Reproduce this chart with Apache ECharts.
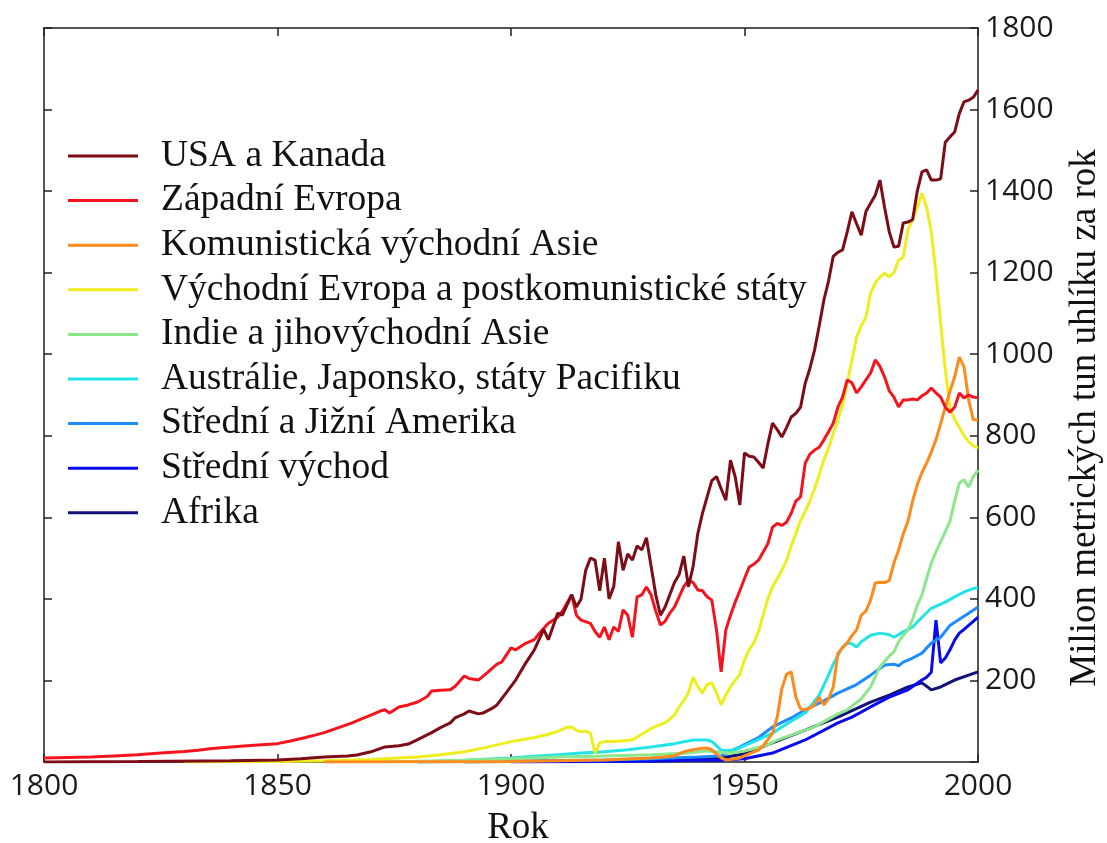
<!DOCTYPE html>
<html>
<head>
<meta charset="utf-8">
<script src="https://cdn.jsdelivr.net/npm/echarts@6/dist/echarts.min.js"></script>
<style>
html,body{margin:0;padding:0;background:#fff;}
#chart{width:1107px;height:843px;}
</style>
</head>
<body>
<div id="chart"></div>
<script>
// ---- data (year, million metric tons of carbon per year) ----
const seriesNames = [
  "USA a Kanada",
  "Západní Evropa",
  "Komunistická východní Asie",
  "Východní Evropa a postkomunistické státy",
  "Indie a jihovýchodní Asie",
  "Austrálie, Japonsko, státy Pacifiku",
  "Střední a Jižní Amerika",
  "Střední východ",
  "Afrika"
];
const xTicks = [1800, 1850, 1900, 1950, 2000];
const yTicks = [0, 200, 400, 600, 800, 1000, 1200, 1400, 1600, 1800];

const usaKanada = [[1800,0],[1820,1],[1840,3],[1850,5],[1855,8],[1860,12],[1865,15],[1867,17],[1870,25],[1873,37],[1876,40],[1878,44],[1880,55],[1883,72],[1885,85],[1887,96],[1888,108],[1890,118],[1891,125],[1893,118],[1894,120],[1896,132],[1897,140],[1899,170],[1901,201],[1903,240],[1905,275],[1907,325],[1908,300],[1910,365],[1911,360],[1913,410],[1914,380],[1915,400],[1916,470],[1917,500],[1918,495],[1919,420],[1920,500],[1921,400],[1922,430],[1923,540],[1924,470],[1925,510],[1926,495],[1927,530],[1928,520],[1929,550],[1930,480],[1931,410],[1932,360],[1933,380],[1934,410],[1935,440],[1936,460],[1937,505],[1938,430],[1939,480],[1940,560],[1941,610],[1942,650],[1943,690],[1944,700],[1945,670],[1946,642],[1947,740],[1948,700],[1949,630],[1950,758],[1951,750],[1952,748],[1953,735],[1954,721],[1955,780],[1956,831],[1957,815],[1958,797],[1959,820],[1960,846],[1961,855],[1962,870],[1963,929],[1964,965],[1965,1010],[1966,1070],[1967,1133],[1968,1180],[1969,1240],[1970,1250],[1971,1256],[1972,1300],[1973,1349],[1974,1320],[1975,1292],[1976,1350],[1977,1370],[1978,1390],[1979,1427],[1980,1360],[1981,1300],[1982,1263],[1983,1265],[1984,1322],[1985,1324],[1986,1330],[1987,1400],[1988,1447],[1989,1452],[1990,1427],[1991,1427],[1992,1430],[1993,1520],[1994,1533],[1995,1545],[1996,1590],[1997,1619],[1998,1623],[1999,1630],[2000,1648]];

const zapadniEvropa = [[1800,10],[1805,11],[1810,12],[1815,15],[1820,18],[1825,22],[1830,26],[1833,29],[1836,33],[1840,37],[1845,41],[1850,45],[1853,52],[1856,60],[1858,66],[1860,72],[1862,80],[1864,88],[1866,96],[1868,106],[1870,115],[1872,125],[1873,128],[1874,120],[1876,135],[1878,140],[1880,147],[1882,160],[1883,174],[1885,176],[1887,177],[1888,185],[1890,211],[1891,205],[1893,201],[1895,220],[1897,240],[1898,245],[1900,280],[1901,275],[1903,290],[1905,300],[1906,315],[1908,340],[1910,355],[1911,370],[1913,410],[1914,360],[1915,348],[1917,340],[1918,320],[1919,306],[1920,331],[1921,300],[1922,331],[1923,320],[1924,373],[1925,360],[1926,306],[1927,405],[1928,410],[1929,429],[1930,410],[1931,370],[1932,336],[1933,345],[1934,365],[1935,380],[1936,405],[1937,430],[1938,446],[1939,440],[1940,422],[1941,420],[1942,405],[1943,397],[1944,324],[1945,221],[1946,324],[1947,360],[1948,392],[1949,420],[1950,450],[1951,478],[1952,485],[1953,495],[1954,515],[1955,535],[1956,576],[1957,585],[1958,580],[1959,588],[1960,610],[1961,640],[1962,650],[1963,733],[1964,755],[1965,765],[1966,772],[1967,790],[1968,810],[1969,831],[1970,870],[1971,895],[1972,937],[1973,930],[1974,905],[1975,920],[1976,937],[1977,954],[1978,986],[1979,970],[1980,944],[1981,910],[1982,895],[1983,871],[1984,888],[1985,888],[1986,890],[1987,888],[1988,898],[1989,905],[1990,917],[1991,905],[1992,895],[1993,870],[1994,858],[1995,870],[1996,905],[1997,893],[1998,900],[1999,895],[2000,893]];

const komunistickaAsie = [[1860,0],[1900,1],[1910,3],[1920,5],[1930,10],[1935,15],[1937,25],[1939,30],[1941,34],[1942,34],[1943,30],[1944,20],[1945,10],[1946,5],[1947,6],[1948,8],[1949,10],[1950,15],[1951,20],[1952,25],[1953,29],[1954,40],[1955,55],[1956,71],[1957,110],[1958,180],[1959,215],[1960,221],[1961,159],[1962,130],[1963,128],[1964,132],[1965,140],[1966,159],[1967,140],[1968,155],[1969,184],[1970,267],[1971,280],[1972,292],[1973,310],[1974,324],[1975,360],[1976,370],[1977,397],[1978,439],[1979,441],[1980,440],[1981,445],[1982,488],[1983,520],[1984,560],[1985,590],[1986,640],[1987,680],[1988,710],[1989,733],[1990,760],[1991,790],[1992,830],[1993,870],[1994,910],[1995,944],[1996,993],[1997,969],[1998,888],[1999,839],[2000,839]];

const vychodniEvropa = [[1830,0],[1850,1],[1860,3],[1870,6],[1880,12],[1885,18],[1890,25],[1894,34],[1897,42],[1900,50],[1903,56],[1905,60],[1908,68],[1910,75],[1912,85],[1913,86],[1914,78],[1915,74],[1916,76],[1917,71],[1918,22],[1919,47],[1920,50],[1922,50],[1924,52],[1926,54],[1928,68],[1930,82],[1932,92],[1933,96],[1935,115],[1936,135],[1937,150],[1938,170],[1939,208],[1940,185],[1941,169],[1942,190],[1943,194],[1944,170],[1945,140],[1946,165],[1947,184],[1948,200],[1949,215],[1950,250],[1951,275],[1952,292],[1953,320],[1954,360],[1955,400],[1956,429],[1957,450],[1958,470],[1959,495],[1960,530],[1961,560],[1962,593],[1963,615],[1964,640],[1965,670],[1966,705],[1967,741],[1968,770],[1969,805],[1970,839],[1971,875],[1972,929],[1973,985],[1974,1042],[1975,1070],[1976,1091],[1977,1150],[1978,1175],[1979,1189],[1980,1199],[1981,1190],[1982,1200],[1983,1231],[1984,1238],[1985,1305],[1986,1330],[1987,1360],[1988,1395],[1989,1360],[1990,1300],[1991,1199],[1992,1077],[1993,960],[1994,870],[1995,840],[1996,821],[1997,800],[1998,785],[1999,775],[2000,770]];

const indieAsie = [[1870,0],[1880,2],[1890,4],[1900,8],[1910,12],[1920,15],[1930,18],[1938,22],[1940,25],[1942,27],[1944,25],[1946,22],[1948,23],[1950,27],[1955,42],[1957,54],[1960,66],[1965,86],[1970,118],[1972,128],[1975,155],[1977,184],[1979,233],[1981,260],[1982,270],[1983,295],[1984,310],[1985,324],[1986,350],[1987,385],[1988,410],[1989,450],[1990,488],[1991,515],[1992,540],[1993,565],[1994,590],[1995,640],[1996,684],[1997,692],[1998,674],[1999,700],[2000,716]];

const australieJaponsko = [[1880,0],[1890,4],[1900,10],[1905,14],[1910,18],[1915,22],[1920,25],[1925,30],[1930,37],[1935,45],[1939,54],[1942,54],[1943,50],[1944,40],[1945,29],[1946,28],[1947,29],[1948,30],[1950,40],[1953,55],[1956,71],[1960,100],[1963,120],[1966,164],[1968,213],[1969,240],[1971,282],[1972,292],[1973,290],[1974,282],[1975,295],[1977,311],[1979,316],[1981,312],[1982,306],[1984,319],[1986,331],[1988,355],[1990,377],[1993,392],[1995,405],[1997,417],[2000,429]];

const jizniAmerika = [[1880,0],[1900,2],[1920,5],[1930,8],[1940,12],[1945,15],[1949,37],[1953,60],[1956,86],[1960,108],[1963,128],[1967,150],[1970,169],[1974,190],[1977,213],[1980,238],[1982,240],[1983,236],[1984,245],[1986,255],[1988,267],[1990,292],[1992,306],[1994,335],[1996,350],[1998,365],[2000,380]];

const stredniVychod = [[1900,0],[1930,2],[1940,5],[1945,4],[1950,8],[1956,22],[1963,54],[1970,96],[1973,110],[1977,135],[1981,159],[1985,177],[1988,201],[1989,208],[1990,220],[1991,348],[1992,243],[1993,255],[1994,275],[1995,299],[1996,316],[1997,325],[1998,335],[1999,345],[2000,355]];

const afrika = [[1890,0],[1900,1],[1920,3],[1930,5],[1940,8],[1945,10],[1950,20],[1956,47],[1963,78],[1970,110],[1977,147],[1981,164],[1985,184],[1988,194],[1990,177],[1992,184],[1995,201],[2000,221]];

const seriesData = [usaKanada, zapadniEvropa, komunistickaAsie, vychodniEvropa, indieAsie, australieJaponsko, jizniAmerika, stredniVychod, afrika];
const colors = ["#7d0c16", "#f5141e", "#ff8a1c", "#eeee1e", "#8ce68c", "#22e4e6", "#1e8cff", "#0a0af0", "#12127a"];

const chart = echarts.init(document.getElementById('chart'), null, {renderer: 'canvas'});

const axisLineStyle = {color: '#555', width: 2};
const tickFont = {fontFamily: 'Open Sans', fontSize: 30, color: '#1a1a1a'};
const serif = 'Liberation Serif';
const tickStyle = {show: true, inside: true, length: 8, lineStyle: {color: '#222', width: 1.5}};

const option = {
  backgroundColor: '#fff',
  animation: false,
  color: colors,
  grid: {left: 44, right: 129, top: 28, bottom: 81, containLabel: false, outerBoundsMode: 'none'},
  legend: {
    orient: 'vertical',
    left: 63,
    top: 132,
    icon: 'rect',
    itemWidth: 70,
    itemHeight: 3,
    itemGap: 6.6,
    data: seriesNames,
    textStyle: {fontFamily: serif, fontSize: 37.5, color: '#111', lineHeight: 37, padding: [0, 0, 0, 18]}
  },
  xAxis: [{
    type: 'value', min: xTicks[0], max: xTicks[xTicks.length - 1], interval: 50,
    position: 'bottom',
    name: 'Rok', nameLocation: 'middle', nameGap: 48, nameMoveOverlap: false,
    nameTextStyle: {fontFamily: serif, fontSize: 37, color: '#111', padding: [0, 0, 0, 14]},
    axisLine: {show: true, onZero: false, lineStyle: axisLineStyle},
    axisTick: tickStyle,
    axisLabel: Object.assign({margin: 9, formatter: v => xTicks.includes(v) ? String(v) : ''}, tickFont),
    splitLine: {show: false}
  }, {
    type: 'value', min: xTicks[0], max: xTicks[xTicks.length - 1], interval: 50,
    position: 'top',
    axisLine: {show: true, onZero: false, lineStyle: axisLineStyle},
    axisTick: tickStyle,
    axisLabel: {show: false},
    splitLine: {show: false}
  }],
  yAxis: [{
    type: 'value', min: yTicks[0], max: yTicks[yTicks.length - 1], interval: 200,
    position: 'right',
    name: 'Milion metrických tun uhlíku za rok', nameLocation: 'middle', nameGap: 89, nameRotate: 90, nameMoveOverlap: false,
    nameTextStyle: {fontFamily: serif, fontSize: 37, color: '#111', padding: [0, 46, 0, 0]},
    axisLine: {show: true, onZero: false, lineStyle: axisLineStyle},
    axisTick: tickStyle,
    axisLabel: Object.assign({margin: 7, formatter: v => (v === 0 ? '' : String(v))}, tickFont),
    splitLine: {show: false}
  }, {
    type: 'value', min: yTicks[0], max: yTicks[yTicks.length - 1], interval: 200,
    position: 'left',
    axisLine: {show: true, onZero: false, lineStyle: axisLineStyle},
    axisTick: tickStyle,
    axisLabel: {show: false},
    splitLine: {show: false}
  }],
  series: seriesNames.map((name, i) => ({
    name: name,
    type: 'line',
    xAxisIndex: 0,
    yAxisIndex: 0,
    data: seriesData[i],
    showSymbol: false,
    symbol: 'none',
    lineStyle: {width: 3, color: colors[i]},
    itemStyle: {color: colors[i]},
    z: 2 + (seriesNames.length - i)
  }))
};
chart.setOption(option);
</script>
</body>
</html>
